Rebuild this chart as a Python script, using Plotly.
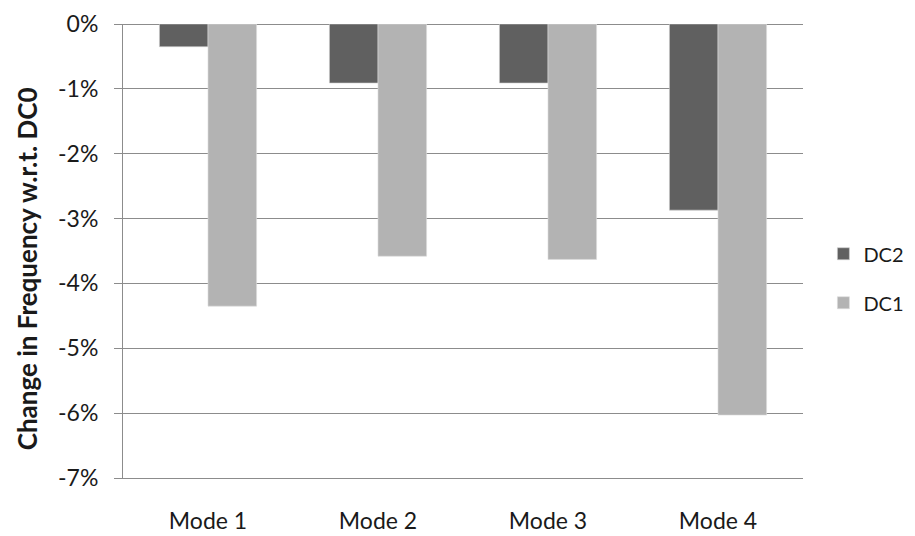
import plotly.graph_objects as go

categories = ["Mode 1", "Mode 2", "Mode 3", "Mode 4"]
dc2_values = [-0.35, -0.91, -0.91, -2.87]
dc1_values = [-4.35, -3.58, -3.63, -6.03]
y_tick_values = [0, -1, -2, -3, -4, -5, -6, -7]
y_tick_labels = ["0%", "-1%", "-2%", "-3%", "-4%", "-5%", "-6%", "-7%"]
boundary_ticks = [0.5, 1.5, 2.5, 3.5]
y_title = "Change in Frequency w.r.t. DC0"

FONT = "Lato"
TXT = "#1a1a1a"
GRID = "#8c8c8c"

fig = go.Figure()
fig.add_trace(go.Bar(
    x=categories, y=dc2_values, name="DC2", legendgroup="a",
    marker=dict(color="#606060", line=dict(color="#d0d0d0", width=0.6)),
))
fig.add_trace(go.Bar(
    x=categories, y=dc1_values, name="DC1", legendgroup="b",
    marker=dict(color="#b3b3b3", line=dict(color="#dcdcdc", width=0.6)),
))

fig.update_layout(
    width=907, height=528,
    margin=dict(l=115, r=112, t=16, b=58, autoexpand=False),
    paper_bgcolor="white", plot_bgcolor="white",
    barmode="group", bargap=0.4286, bargroupgap=0,
    font=dict(family=FONT, size=23, color=TXT),
    showlegend=True,
    legend=dict(
        x=1.03, y=0.44, xanchor="left", yanchor="middle",
        traceorder="grouped", tracegroupgap=20,
        font=dict(family=FONT, size=20, color=TXT),
        bgcolor="rgba(0,0,0,0)",
    ),
    xaxis=dict(
        type="category", showgrid=False, zeroline=False,
        showline=True, linecolor=GRID, linewidth=1,
        ticks="", ticklabelstandoff=22, range=[-0.5, 3.5], automargin=False,
        tickfont=dict(family=FONT, size=23, color=TXT),
    ),
    xaxis2=dict(
        overlaying="x", side="top", anchor="y", range=[-0.5, 3.5],
        tickvals=boundary_ticks, ticks="inside", ticklen=7, tickcolor=GRID,
        showticklabels=False, showgrid=False, zeroline=False, automargin=False,
        showline=True, linecolor=GRID, linewidth=1,
    ),
    yaxis=dict(
        range=[-7, 0], tickvals=y_tick_values, ticktext=y_tick_labels,
        showgrid=True, gridcolor=GRID, gridwidth=1,
        zeroline=True, zerolinecolor=GRID, zerolinewidth=1,
        showline=True, linecolor=GRID, linewidth=1,
        ticks="outside", ticklen=8, tickcolor=GRID,
        ticklabelstandoff=11, automargin=False,
        tickfont=dict(family=FONT, size=23, color=TXT),
    ),
    annotations=[dict(
        text="<b>" + y_title + "</b>", textangle=-90,
        xref="paper", yref="paper", x=-0.141, y=0.46,
        xanchor="center", yanchor="middle", showarrow=False,
        font=dict(family=FONT, size=26, color=TXT),
    )],
)

fig.write_html("out.html")
